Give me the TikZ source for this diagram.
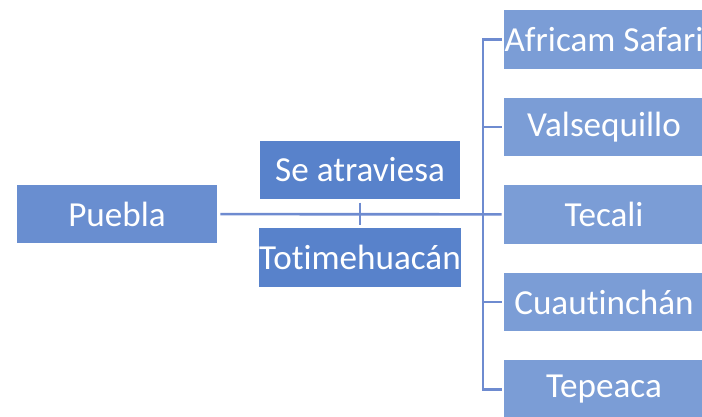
\documentclass[tikz,border=0pt]{standalone}
\usepackage{fontspec}
\setmainfont[Ligatures=NoCommon]{Carlito}
\usetikzlibrary{positioning}
\definecolor{rootblue}{HTML}{698ED0}
\definecolor{midblue}{HTML}{5882CB}
\definecolor{leafblue}{HTML}{7B9DD6}
\definecolor{linkblue}{HTML}{6E8BD0}

\begin{document}
\begin{tikzpicture}[
    x=0.02cm, y=-0.02cm,
    node distance=0.566cm,
    box/.style={rectangle, fill=rootblue, text=white, minimum width=4cm,
                minimum height=1.17cm, inner sep=0pt, align=center,
                font=\fontsize{20}{24}\selectfont},
    mid/.style={box, fill=midblue},
    leaf/.style={box, fill=leafblue},
    link/.style={draw=linkblue, line width=1.5pt}
]
    \useasboundingbox (0,0) rectangle (702,416);

    % Root and crossing
    \node[box] (puebla) at (117,214) {Puebla};
    \node[mid] (cross) at (360,170) {Se atraviesa};
    \node[mid] (toti) at (360,257.5) {Totimehuacán};

    % Destinations
    \node[leaf] (africam) at (604,39.5) {Africam Safari};
    \node[leaf, below=of africam] (valse) {Valsequillo};
    \node[leaf, below=of valse] (tecali) {Tecali};
    \node[leaf, below=of tecali] (cuauti) {Cuautinchán};
    \node[leaf, below=of cuauti] (tepeaca) {Tepeaca};

    \coordinate (trunk) at (483,214);

    % Lines
    \draw[link, shorten <=0.06cm, shorten >=0.04cm] (puebla) -- (tecali);
    \draw[link, shorten <=0.06cm, shorten >=0.06cm] (cross) -- (toti);
    \draw[link, shorten <=0.04cm, shorten >=0.04cm] (africam.west) -- (trunk |- africam.west)
        -- (trunk |- tepeaca.west) -- (tepeaca.west);
    \draw[link, shorten >=0.04cm] (trunk |- valse.west) -- (valse.west);
    \draw[link, shorten >=0.04cm] (trunk |- cuauti.west) -- (cuauti.west);
\end{tikzpicture}
\end{document}
